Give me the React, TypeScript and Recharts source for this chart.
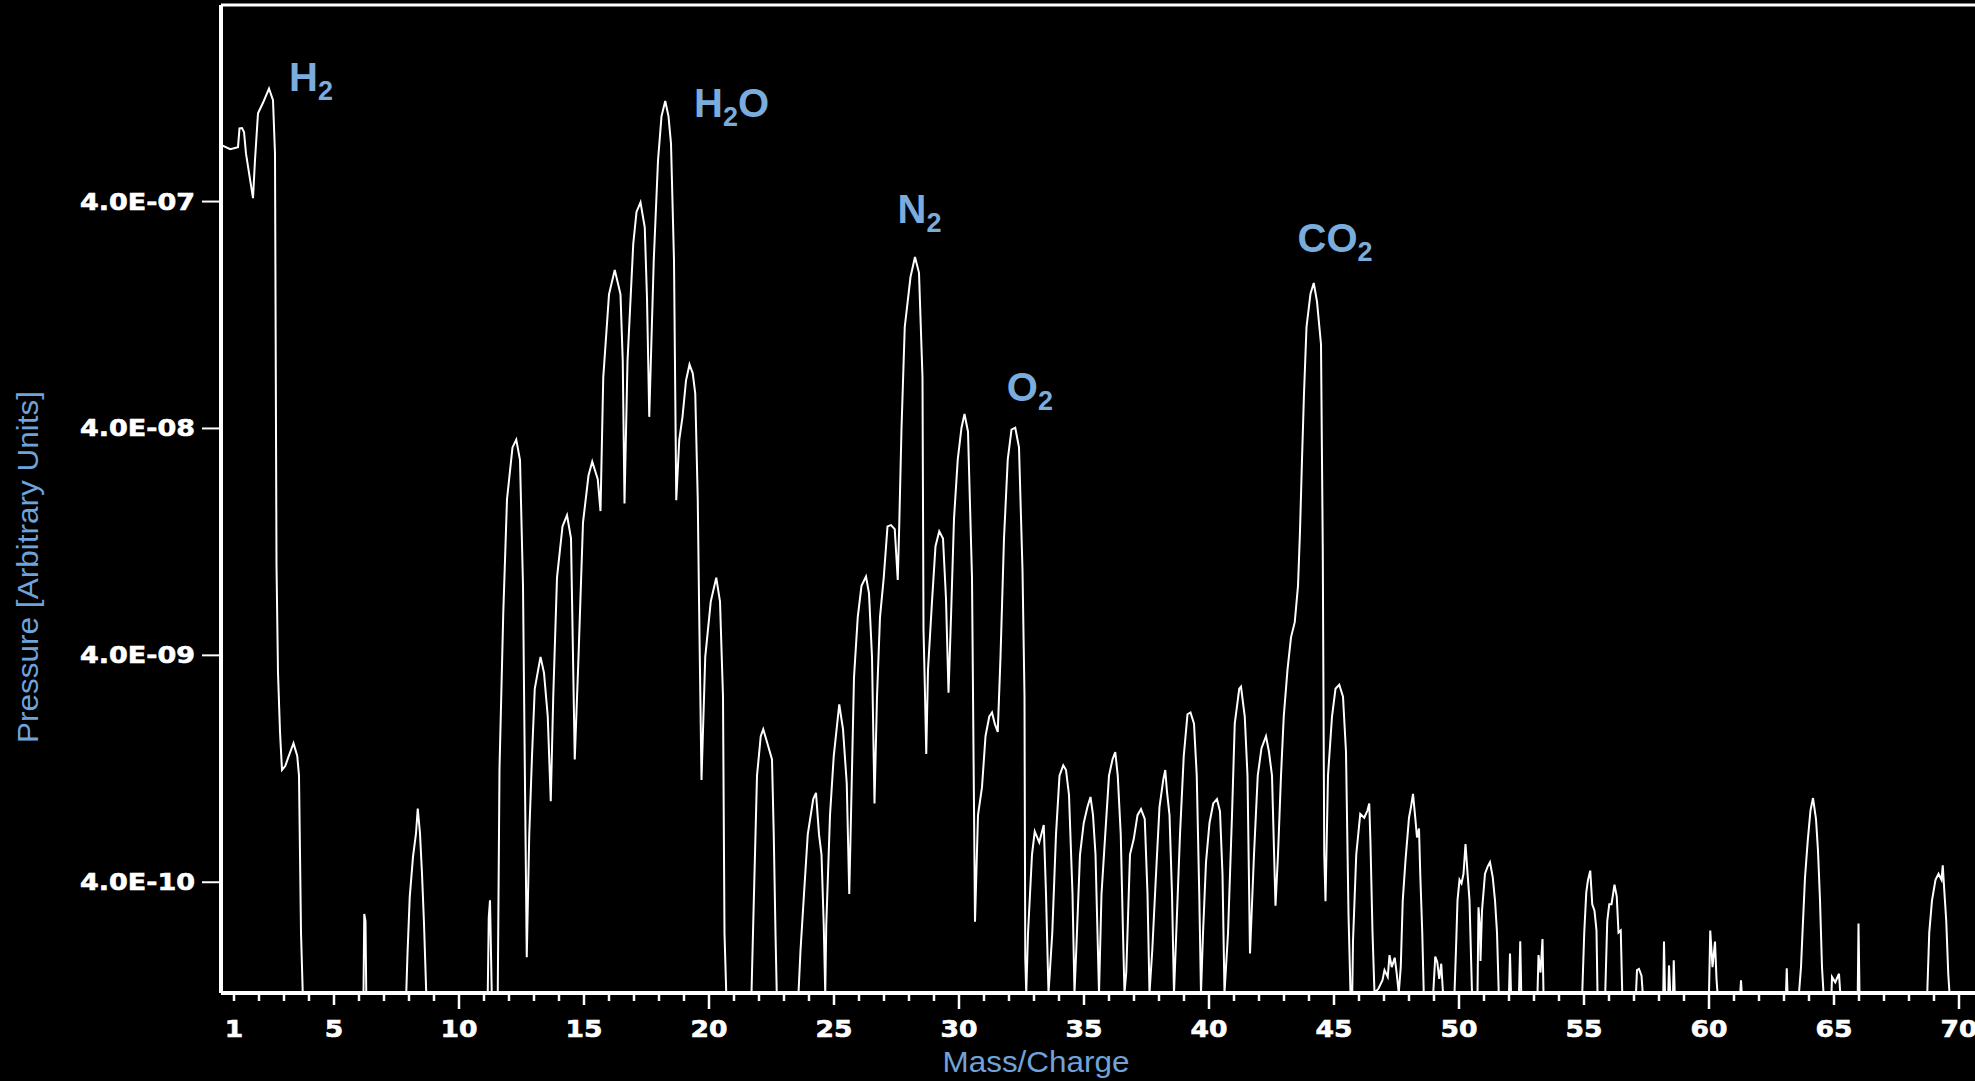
import {
  LineChart,
  Line,
  XAxis,
  YAxis,
  ReferenceLine,
  ReferenceDot
} from 'recharts';

// [mass/charge, pressure], split by region
const lowMass: [number, number][] = [
  [0.48, 7.1e-7], [0.85, 6.8e-7], [1.16, 6.95e-7], [1.22, 8.4e-7], [1.32, 8.43e-7],
  [1.4, 8.1e-7], [1.48, 6.5e-7], [1.76, 4.14e-7], [1.84, 6.1e-7], [1.96, 9.8e-7],
  [2.16, 1.09e-6], [2.4, 1.26e-6], [2.56, 1.12e-6], [2.64, 6.5e-7], [2.7, 1.0e-8],
  [2.76, 3.35e-9], [2.84, 1.84e-9], [2.92, 1.25e-9], [3.05, 1.3e-9], [3.16, 1.41e-9],
  [3.38, 1.64e-9], [3.53, 1.44e-9], [3.6, 1.18e-9], [3.68, 2.4e-10], [3.75, 1.3e-10],
  [6.18, 1.3e-10], [6.21, 2.9e-10], [6.26, 2.7e-10], [6.29, 1.3e-10],
  [7.89, 1.3e-10], [7.94, 1.94e-10], [8.03, 3.45e-10], [8.16, 5.17e-10], [8.28, 6.56e-10],
  [8.35, 8.45e-10], [8.44, 6.56e-10], [8.52, 4.36e-10], [8.6, 2.63e-10], [8.69, 1.3e-10],
  [11.15, 1.3e-10], [11.19, 2.8e-10], [11.24, 3.33e-10], [11.31, 1.3e-10], [11.55, 1.3e-10],
  [11.62, 1.27e-9], [11.77, 6.1e-9], [11.92, 1.95e-8], [12.14, 3.3e-8], [12.29, 3.57e-8],
  [12.44, 2.9e-8], [12.56, 8.1e-9], [12.62, 1.76e-9], [12.71, 1.87e-10], [12.81, 6.5e-10],
  [12.92, 1.44e-9], [13.03, 2.85e-9], [13.26, 3.94e-9], [13.4, 3.35e-9], [13.55, 2.15e-9],
  [13.67, 9.1e-10], [13.77, 2.64e-9], [13.92, 8.8e-9], [14.14, 1.48e-8], [14.32, 1.66e-8],
  [14.48, 1.31e-8], [14.63, 1.39e-9], [14.78, 3.94e-9], [14.96, 1.54e-8], [15.18, 2.48e-8],
  [15.33, 2.86e-8], [15.55, 2.39e-8], [15.66, 1.73e-8]
];

const waterRegion: [number, number][] = [
  [15.77, 6.7e-8], [16.0, 1.56e-7], [16.23, 2.0e-7], [16.46, 1.56e-7], [16.55, 7.9e-8],
  [16.62, 1.87e-8], [16.74, 7.9e-8], [16.97, 2.6e-7], [17.1, 3.6e-7], [17.26, 3.97e-7],
  [17.43, 3.08e-7], [17.52, 1.5e-7], [17.61, 4.5e-8], [17.7, 1.0e-7], [17.79, 2.2e-7],
  [17.96, 6.07e-7], [18.1, 9.5e-7], [18.25, 1.11e-6], [18.38, 9.5e-7], [18.48, 7.2e-7],
  [18.6, 2.2e-7], [18.69, 1.93e-8], [18.81, 3.56e-8], [18.94, 4.5e-8], [19.08, 6.5e-8],
  [19.22, 7.66e-8], [19.35, 7.0e-8], [19.45, 5.7e-8], [19.55, 1.95e-8], [19.6, 7.1e-9],
  [19.7, 1.13e-9], [19.85, 3.94e-9], [20.07, 6.9e-9], [20.29, 8.8e-9], [20.44, 6.9e-9],
  [20.56, 2.63e-9], [20.62, 2.38e-10], [20.69, 1.3e-10], [21.7, 1.3e-10], [21.76, 2.4e-10],
  [21.92, 1.18e-9], [22.07, 1.76e-9], [22.17, 1.89e-9], [22.34, 1.63e-9], [22.52, 1.39e-9],
  [22.59, 6.5e-10], [22.66, 2.38e-10], [22.71, 1.3e-10], [23.58, 1.3e-10]
];

const airRegion: [number, number][] = [
  [23.66, 2.0e-10], [23.8, 3.55e-10], [23.95, 6.5e-10], [24.17, 9.3e-10], [24.28, 9.9e-10],
  [24.4, 6.5e-10], [24.5, 5.3e-10], [24.59, 2.58e-10], [24.65, 1.3e-10], [24.69, 2.58e-10],
  [24.84, 7.9e-10], [24.99, 1.44e-9], [25.21, 2.43e-9], [25.36, 1.89e-9], [25.51, 1.09e-9],
  [25.61, 3.55e-10], [25.68, 7.9e-10], [25.8, 3.2e-9], [25.95, 5.9e-9], [26.1, 8.1e-9],
  [26.28, 8.9e-9], [26.4, 7.5e-9], [26.52, 3.94e-9], [26.62, 8.9e-10], [26.72, 2.63e-9],
  [26.84, 5.9e-9], [26.99, 8.8e-9], [27.14, 1.48e-8], [27.28, 1.5e-8], [27.43, 1.44e-8],
  [27.55, 8.6e-9], [27.61, 1.5e-8], [27.7, 4.0e-8], [27.83, 1.12e-7], [28.06, 1.86e-7],
  [28.24, 2.28e-7], [28.4, 1.94e-7], [28.54, 6.7e-8], [28.58, 5.2e-9], [28.64, 2.7e-9],
  [28.69, 1.47e-9], [28.76, 3.46e-9], [28.92, 6.9e-9], [29.06, 1.21e-8], [29.21, 1.41e-8],
  [29.36, 1.31e-8], [29.48, 7.1e-9], [29.58, 2.74e-9], [29.68, 5.9e-9], [29.8, 1.6e-8],
  [29.95, 2.92e-8], [30.1, 4.03e-8], [30.22, 4.63e-8], [30.36, 3.87e-8], [30.52, 8.8e-9],
  [30.64, 2.68e-10], [30.76, 7.9e-10], [30.92, 1.05e-9], [31.06, 1.76e-9], [31.21, 2.15e-9],
  [31.32, 2.24e-9], [31.43, 2.0e-9], [31.55, 1.84e-9], [31.66, 3.94e-9], [31.8, 1.31e-8],
  [31.95, 2.92e-8], [32.1, 3.95e-8], [32.25, 4.03e-8], [32.4, 3.3e-8], [32.54, 9.5e-9],
  [32.62, 2.63e-9], [32.65, 1.87e-10], [32.69, 1.3e-10], [32.76, 2.38e-10], [32.92, 5.3e-10],
  [33.03, 6.7e-10], [33.21, 6.0e-10], [33.39, 7.15e-10], [33.48, 3.55e-10], [33.58, 1.3e-10],
  [33.73, 2.38e-10], [33.88, 6.5e-10], [34.02, 1.18e-9], [34.17, 1.31e-9], [34.28, 1.25e-9],
  [34.4, 9.7e-10], [34.54, 3.55e-10], [34.62, 1.3e-10], [34.69, 2.0e-10], [34.84, 5.3e-10],
  [34.99, 7.3e-10], [35.14, 8.6e-10], [35.26, 9.5e-10], [35.36, 7.9e-10], [35.46, 5.3e-10],
  [35.54, 2.38e-10], [35.6, 1.3e-10], [35.7, 3.55e-10], [35.85, 6.5e-10], [36.0, 1.18e-9],
  [36.14, 1.39e-9], [36.25, 1.5e-9], [36.35, 1.18e-9], [36.47, 6.5e-10], [36.56, 2.38e-10],
  [36.62, 1.3e-10], [36.69, 1.6e-10], [36.84, 5.3e-10], [36.99, 6.2e-10], [37.14, 7.9e-10],
  [37.28, 8.4e-10], [37.43, 7.6e-10], [37.54, 3.55e-10], [37.62, 1.3e-10], [37.73, 2.0e-10],
  [37.88, 4.33e-10], [38.02, 8.6e-10], [38.17, 1.13e-9], [38.25, 1.25e-9], [38.32, 1.0e-9],
  [38.42, 7.9e-10], [38.52, 3.55e-10], [38.6, 1.3e-10], [38.69, 2.38e-10], [38.84, 6.5e-10],
  [38.99, 1.44e-9], [39.14, 2.2e-9], [39.26, 2.24e-9], [39.4, 2.0e-9], [39.51, 1.18e-9],
  [39.61, 3.55e-10], [39.68, 1.3e-10], [39.76, 2.38e-10], [39.88, 4.9e-10], [40.02, 7.3e-10],
  [40.17, 8.9e-10], [40.32, 9.3e-10], [40.44, 8.2e-10], [40.54, 4.33e-10], [40.62, 1.3e-10],
  [40.76, 2.38e-10], [40.92, 7.9e-10], [41.03, 2.0e-9], [41.21, 2.85e-9], [41.28, 2.91e-9],
  [41.43, 2.15e-9], [41.54, 1.18e-9], [41.64, 1.94e-10], [41.8, 5.3e-10], [41.95, 1.18e-9],
  [42.1, 1.56e-9], [42.28, 1.76e-9], [42.4, 1.5e-9], [42.52, 1.18e-9], [42.66, 3.15e-10]
];

const co2Region: [number, number][] = [
  [42.76, 5.3e-10], [42.88, 1.18e-9], [42.99, 2.15e-9], [43.14, 3.46e-9], [43.28, 4.8e-9],
  [43.43, 5.6e-9], [43.56, 8.1e-9], [43.64, 1.41e-8], [43.72, 2.92e-8], [43.8, 5.7e-8],
  [43.9, 1.12e-7], [44.06, 1.57e-7], [44.19, 1.75e-7], [44.32, 1.45e-7], [44.48, 9.4e-8],
  [44.55, 1.2e-8], [44.61, 5.3e-10], [44.66, 3.3e-10], [44.76, 1.18e-9], [44.92, 2.15e-9],
  [45.06, 2.85e-9], [45.21, 2.97e-9], [45.36, 2.63e-9], [45.48, 1.5e-9], [45.58, 2.9e-10],
  [45.66, 1.3e-10]
];

const highMass: [number, number][] = [
  [45.73, 1.3e-10], [45.76, 2.2e-10], [45.89, 5.3e-10], [46.05, 8.0e-10], [46.21, 7.7e-10],
  [46.34, 8.3e-10], [46.41, 8.9e-10], [46.46, 5.9e-10], [46.54, 2.4e-10], [46.62, 1.3e-10],
  [46.78, 1.36e-10], [46.94, 1.48e-10], [47.02, 1.64e-10], [47.15, 1.53e-10], [47.22, 1.91e-10],
  [47.31, 1.69e-10], [47.43, 1.86e-10], [47.51, 1.58e-10], [47.59, 1.3e-10], [47.67, 1.69e-10],
  [47.75, 3.33e-10], [47.86, 5.0e-10], [48.0, 7.7e-10], [48.08, 8.6e-10], [48.16, 9.8e-10],
  [48.25, 7.7e-10], [48.32, 6.3e-10], [48.4, 6.9e-10], [48.45, 4.36e-10], [48.53, 2.4e-10],
  [48.59, 1.3e-10], [48.97, 1.3e-10], [49.05, 1.88e-10], [49.13, 1.78e-10], [49.21, 1.5e-10],
  [49.29, 1.75e-10], [49.36, 1.3e-10], [49.82, 1.3e-10], [49.89, 2.2e-10], [49.94, 3.33e-10],
  [50.02, 4.1e-10], [50.1, 3.95e-10], [50.18, 4.36e-10], [50.26, 5.9e-10], [50.34, 4.4e-10],
  [50.42, 3.33e-10], [50.52, 1.3e-10], [50.74, 1.3e-10], [50.78, 3.1e-10], [50.84, 2.5e-10],
  [50.86, 1.8e-10], [50.92, 3.0e-10], [51.04, 4.36e-10], [51.15, 4.7e-10], [51.24, 4.9e-10],
  [51.35, 4.2e-10], [51.44, 3.33e-10], [51.52, 2.4e-10], [51.59, 1.3e-10], [52.0, 1.3e-10],
  [52.04, 1.94e-10], [52.08, 1.3e-10], [52.4, 1.3e-10], [52.45, 2.2e-10], [52.49, 1.3e-10],
  [53.14, 1.3e-10], [53.18, 1.91e-10], [53.26, 1.6e-10], [53.34, 2.25e-10], [53.38, 1.3e-10],
  [54.93, 1.3e-10], [55.01, 2.4e-10], [55.09, 3.6e-10], [55.16, 4.1e-10], [55.25, 4.5e-10],
  [55.33, 3.2e-10], [55.42, 3.0e-10], [55.5, 2.45e-10], [55.54, 1.3e-10], [55.85, 1.3e-10],
  [55.93, 2.7e-10], [56.01, 3.2e-10], [56.1, 3.2e-10], [56.22, 3.9e-10], [56.31, 3.46e-10],
  [56.38, 2.4e-10], [56.47, 2.45e-10], [56.53, 1.3e-10], [57.08, 1.3e-10], [57.12, 1.64e-10],
  [57.2, 1.66e-10], [57.3, 1.55e-10], [57.35, 1.3e-10], [58.17, 1.3e-10], [58.2, 2.19e-10],
  [58.24, 1.3e-10], [58.37, 1.3e-10], [58.4, 1.72e-10], [58.45, 1.3e-10], [58.56, 1.3e-10],
  [58.59, 1.81e-10], [58.63, 1.3e-10], [60.0, 1.3e-10], [60.05, 2.45e-10], [60.14, 1.69e-10],
  [60.24, 2.19e-10], [60.3, 1.5e-10], [60.34, 1.3e-10], [61.25, 1.3e-10], [61.28, 1.48e-10],
  [61.31, 1.3e-10], [63.08, 1.3e-10], [63.11, 1.67e-10], [63.14, 1.3e-10], [63.6, 1.3e-10],
  [63.68, 1.69e-10], [63.74, 2.4e-10], [63.84, 4.2e-10], [63.95, 6.1e-10], [64.06, 8.3e-10],
  [64.16, 9.4e-10], [64.28, 7.6e-10], [64.36, 5.5e-10], [64.44, 3.33e-10], [64.52, 1.69e-10],
  [64.58, 1.3e-10], [64.9, 1.3e-10], [64.92, 1.53e-10], [65.05, 1.45e-10], [65.2, 1.58e-10],
  [65.25, 1.3e-10], [65.95, 1.3e-10], [65.98, 2.63e-10], [66.02, 1.3e-10], [68.73, 1.3e-10],
  [68.81, 2.4e-10], [68.92, 3.33e-10], [69.06, 4.1e-10], [69.18, 4.36e-10], [69.3, 4.1e-10],
  [69.35, 4.75e-10], [69.41, 3.7e-10], [69.49, 2.7e-10], [69.57, 1.58e-10], [69.62, 1.3e-10],
  [71.0, 1.3e-10]
];

const yTicks = [4e-10, 4e-9, 4e-8, 4e-7];
const xTicks = Array.from({ length: 70 }, (_, i) => i + 1);

// peak annotations: main text, subscript, trailing text, anchor (left / baseline)
const peakLabels = [
  { head: 'H', sub: '2', tail: '', mz: 3.2, p: 1.23e-6 },
  { head: 'H', sub: '2', tail: 'O', mz: 19.4, p: 9.45e-7 },
  { head: 'N', sub: '2', tail: '', mz: 27.54, p: 3.22e-7 },
  { head: 'O', sub: '2', tail: '', mz: 31.91, p: 5.3e-8 },
  { head: 'CO', sub: '2', tail: '', mz: 43.54, p: 2.4e-7 }
];

const spectrum = [...lowMass, ...waterRegion, ...airRegion, ...co2Region, ...highMass].map(
  ([mz, p]) => ({ mz, p })
);

const LABEL_BLUE = '#7aadde';
const TITLE_BLUE = '#6fa3da';

function formatPressure(v: number) {
  const e = Math.round(Math.log10(v / 4));
  const m = v / Math.pow(10, e);
  return `${m.toFixed(1)}E-${String(-e).padStart(2, '0')}`;
}

function XTick(props: any) {
  const { x, y, payload } = props;
  const v = payload.value as number;
  const len = v % 10 === 0 ? 16 : v % 5 === 0 ? 12 : 8;
  const labelled = v === 1 || v % 5 === 0;
  const txt = String(v);
  return (
    <g>
      <line x1={x} x2={x} y1={y} y2={y + len} stroke="#fff" strokeWidth={2.5} />
      {labelled && (
        <text
          x={x}
          y={y + 44}
          textAnchor="middle"
          fill="#fff"
          stroke="#fff"
          strokeWidth={0.6}
          fontFamily="DejaVu Sans"
          fontWeight="bold"
          fontSize={23}
          textLength={18.5 * txt.length}
          lengthAdjust="spacingAndGlyphs"
        >
          {txt}
        </text>
      )}
    </g>
  );
}

function YTick(props: any) {
  const { x, y, payload } = props;
  return (
    <g>
      <line x1={x - 19} x2={x} y1={y} y2={y} stroke="#fff" strokeWidth={2} />
      <text
        x={x - 26}
        y={y + 8}
        textAnchor="end"
        fill="#fff"
        stroke="#fff"
        strokeWidth={0.6}
        fontFamily="DejaVu Sans"
        fontWeight="bold"
        fontSize={23}
        textLength={115}
        lengthAdjust="spacingAndGlyphs"
      >
        {formatPressure(payload.value)}
      </text>
    </g>
  );
}

function PeakLabel({ cx, cy, item }: any) {
  return (
    <text x={cx} y={cy} fill={LABEL_BLUE} fontFamily="Liberation Sans, Arial, sans-serif" fontWeight="bold" fontSize={40}>
      <tspan>{item.head}</tspan>
      <tspan dy={9.5} fontSize={27}>{item.sub}</tspan>
      {item.tail && <tspan dy={-9.5}>{item.tail}</tspan>}
    </text>
  );
}

function YTitle({ viewBox }: any) {
  const vb = viewBox || { x: 0, y: 5, width: 221, height: 988 };
  const cx = vb.x + 38;
  const cy = vb.y + vb.height / 2 + 68;
  return (
    <text
      x={cx}
      y={cy}
      transform={`rotate(-90, ${cx}, ${cy})`}
      textAnchor="middle"
      fill={TITLE_BLUE}
      fontFamily="Liberation Sans, Arial, sans-serif"
      fontSize={29}
      textLength={352}
      lengthAdjust="spacingAndGlyphs"
    >
      Pressure [Arbitrary Units]
    </text>
  );
}

function XTitle({ viewBox }: any) {
  const vb = viewBox || { x: 221, y: 993, width: 1763, height: 88 };
  return (
    <text
      x={vb.x + 815}
      y={vb.y + 79}
      textAnchor="middle"
      fill={TITLE_BLUE}
      fontFamily="Liberation Sans, Arial, sans-serif"
      fontSize={29}
      textLength={187}
      lengthAdjust="spacingAndGlyphs"
    >
      Mass/Charge
    </text>
  );
}

export default function App() {
  return (
    <div
      style={{
        position: 'absolute',
        left: 0,
        top: 0,
        width: 1975,
        height: 1081,
        overflow: 'hidden',
        background: '#000'
      }}
    >
      <LineChart width={1984} height={1081} data={spectrum} margin={{ top: 5, right: 0, bottom: 0, left: 0 }}>
        <XAxis
          dataKey="mz"
          type="number"
          domain={[0.48, 71]}
          allowDataOverflow
          ticks={xTicks}
          interval={0}
          tick={(p: any) => <XTick {...p} />}
          tickLine={false}
          tickSize={0}
          tickMargin={0}
          height={88}
          axisLine={{ stroke: '#fff', strokeWidth: 4 }}
          label={{ content: (p: any) => <XTitle {...p} /> }}
        />
        <YAxis
          type="number"
          scale="log"
          domain={[1.3e-10, 2.94e-6]}
          allowDataOverflow
          ticks={yTicks}
          interval={0}
          width={221}
          tick={(p: any) => <YTick {...p} />}
          tickLine={false}
          tickSize={0}
          tickMargin={0}
          axisLine={{ stroke: '#fff', strokeWidth: 4 }}
          label={{ content: (p: any) => <YTitle {...p} /> }}
        />
        <ReferenceLine y={2.94e-6} stroke="#fff" strokeWidth={3} ifOverflow="visible" />
        <Line
          type="linear"
          dataKey="p"
          stroke="#fff"
          strokeWidth={2}
          dot={false}
          activeDot={false}
          isAnimationActive={false}
        />
        {peakLabels.map((l) => (
          <ReferenceDot
            key={l.head + l.tail + l.mz}
            x={l.mz}
            y={l.p}
            r={0}
            ifOverflow="visible"
            shape={(p: any) => <PeakLabel {...p} item={l} />}
          />
        ))}
      </LineChart>
    </div>
  );
}
